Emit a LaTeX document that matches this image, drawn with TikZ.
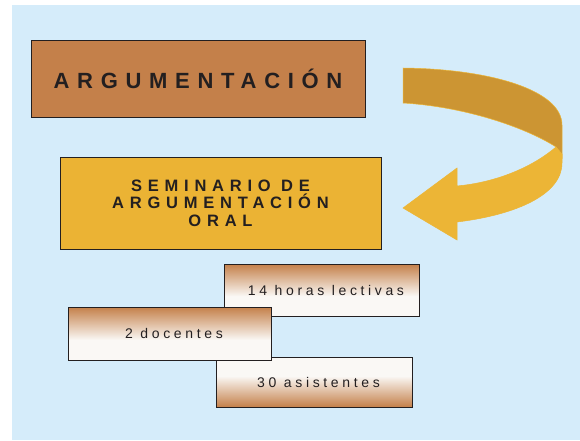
\documentclass[tikz,border=0pt]{standalone}
\usepackage{fontspec}
\setmainfont{Liberation Sans}
\newfontfamily\titlefont[LetterSpace=35]{Liberation Sans}
\newfontfamily\itemfont[LetterSpace=26]{Liberation Sans}
\usepackage{tikz}
\usetikzlibrary{positioning}
\definecolor{skyback}{RGB}{213,236,250}
\definecolor{boxtan}{RGB}{196,128,74}
\definecolor{boxgold}{RGB}{235,179,52}
\definecolor{banddark}{RGB}{204,149,51}
\definecolor{bandlight}{RGB}{236,181,54}
\definecolor{inkdark}{RGB}{35,31,32}
\definecolor{paperwhite}{RGB}{250,248,245}
\pgfdeclareverticalshading{fadetop}{100bp}{color(0bp)=(paperwhite); color(25bp)=(paperwhite);
  color(44bp)=(paperwhite); color(75bp)=(boxtan); color(100bp)=(boxtan)}
\pgfdeclareverticalshading{fadebottom}{100bp}{color(0bp)=(boxtan); color(25bp)=(boxtan);
  color(56bp)=(paperwhite); color(75bp)=(paperwhite); color(100bp)=(paperwhite)}

\begin{document}
\begin{tikzpicture}[x=1pt, y=1pt,
    titlebox/.style={draw=inkdark, line width=0.9pt, inner sep=0pt, align=center,
                     text=inkdark},
    itembox/.style={draw=inkdark, line width=0.8pt, inner sep=0pt, minimum width=#1,
                    minimum height=52pt, text=inkdark,
                    font=\itemfont\fontsize{14}{16}\selectfont,
                    execute at begin node=\hskip 9pt},
    band/.style={draw=bandlight, line width=0.5pt}
]
\useasboundingbox (0,0) rectangle (580,440);
\fill[skyback] (12,0) rectangle (580,435);

\node[titlebox, fill=boxtan, minimum width=334pt, minimum height=77pt,
      font=\titlefont\bfseries\fontsize{22}{26}\selectfont] (topic) at (198,361.5)
    {ARGUMENTACIÓN};
\node[titlebox, fill=boxgold, minimum width=321pt, minimum height=92pt,
      font=\titlefont\bfseries\fontsize{16.5}{17.5}\selectfont] (seminar) at (220.5,237)
    {SEMINARIO DE\\ARGUMENTACIÓN\\ORAL};

\fill[banddark, band] (403,372) .. controls (490,371) and (562,350) .. (562,315)
    -- (562,282) -- (556,293) .. controls (530,310) and (470,333) .. (403,337) -- cycle;
\fill[bandlight, band] (556,293) .. controls (535,275) and (500,258) .. (457,254)
    -- (457,272) -- (403,232) -- (457,200) -- (457,218)
    .. controls (515,225) and (562,245) .. (562,277) -- (562,286) -- cycle;

\node[itembox=195pt, shading=fadetop] (hours) at (321.5,150) {14 horas lectivas};
\node[itembox=196pt, minimum height=50pt, shading=fadebottom] (people) at (314,58)
    {30 asistentes};
\node[itembox=203pt, minimum height=53pt, shading=fadetop] (staff) at (169.5,106.5)
    {2 docentes};

\end{tikzpicture}
\end{document}
